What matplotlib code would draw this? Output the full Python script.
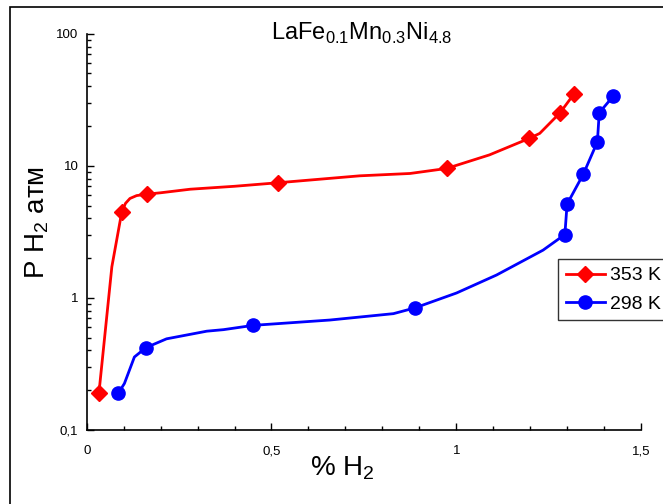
import numpy as np
import matplotlib
matplotlib.use("Agg")
import matplotlib.pyplot as plt
from matplotlib.patches import Rectangle
from matplotlib.ticker import FixedLocator, FixedFormatter, NullFormatter

plt.rcParams['font.family'] = ['Liberation Sans', 'DejaVu Sans']

# 353 K - measured points (markers)
h_353 = [0.033, 0.095, 0.162, 0.519, 0.974, 1.197, 1.281, 1.318]
p_353 = [0.19, 4.5, 6.1, 7.45, 9.55, 16.1, 25.2, 34.8]
# 353 K - smoothed curve
h_353_line = [0.033, 0.068, 0.095, 0.105, 0.117, 0.135, 0.162, 0.20, 0.28, 0.40, 0.519,
              0.739, 0.875, 0.974, 1.09, 1.197, 1.226, 1.281, 1.318]
p_353_line = [0.19, 1.72, 4.5, 5.2, 5.66, 5.95, 6.1, 6.25, 6.65, 7.0, 7.45,
              8.4, 8.75, 9.55, 12.1, 16.1, 17.6, 25.2, 34.8]

# 298 K - measured points (markers)
h_298 = [0.0855, 0.160, 0.451, 0.888, 1.294, 1.300, 1.344, 1.382, 1.387, 1.425]
p_298 = [0.19, 0.42, 0.62, 0.84, 3.02, 5.13, 8.65, 15.2, 25.2, 33.7]
# 298 K - smoothed curve
h_298_line = [0.0855, 0.102, 0.129, 0.160, 0.216, 0.325, 0.37, 0.451, 0.658,
              0.83, 0.888, 1.001, 1.109, 1.235, 1.294, 1.300, 1.344, 1.382, 1.387, 1.425]
p_298_line = [0.19, 0.225, 0.357, 0.42, 0.49, 0.56, 0.575, 0.62, 0.68,
              0.76, 0.84, 1.09, 1.49, 2.30, 3.02, 5.13, 8.65, 15.2, 25.2, 33.7]

fig = plt.figure(figsize=(6.63, 5.04), dpi=100)
ax = fig.add_axes([0.1308, 0.1468, 0.9668 - 0.1308, 0.9331 - 0.1468])

# outer frame (cut off at right/bottom like the original)
fig.patches.append(Rectangle((10 / 663, -0.1), 1.2, 1 - 7 / 504 + 0.1,
                             transform=fig.transFigure, fill=False,
                             edgecolor='black', linewidth=1.2))

ax.plot(h_353_line, p_353_line, color='red', lw=2.0, zorder=2)
ax.plot(h_353, p_353, 'D', color='red', ms=8.5, zorder=3)
ax.plot(h_298_line, p_298_line, color='blue', lw=2.0, zorder=2)
ax.plot(h_298, p_298, 'o', color='blue', ms=9.5, zorder=3)

# legend handles
l1, = ax.plot([], [], color='red', lw=2.0, marker='D', ms=8)
l2, = ax.plot([], [], color='blue', lw=2.0, marker='o', ms=9.5)
leg = fig.legend([l1, l2], ['353 K', '298 K'], loc='upper left',
                 bbox_to_anchor=(558 / 663, 1 - 259 / 504), fontsize=14,
                 frameon=True, fancybox=False, edgecolor='black',
                 borderpad=0.4, labelspacing=0.55, handlelength=2.0,
                 handletextpad=0.3, borderaxespad=0)
leg.get_frame().set_linewidth(1.0)

ax.set_yscale('log')
ax.set_xlim(0, 1.5)
ax.set_ylim(0.1, 100)
for s in ['top', 'right']:
    ax.spines[s].set_visible(False)
for s in ['left', 'bottom']:
    ax.spines[s].set_linewidth(1.2)

ax.xaxis.set_major_locator(FixedLocator([0, 0.5, 1, 1.5]))
ax.xaxis.set_major_formatter(FixedFormatter(['0', '0,5', '1', '1,5']))
ax.xaxis.set_minor_locator(FixedLocator(np.arange(0, 1.51, 0.1)))
ax.yaxis.set_major_locator(FixedLocator([0.1, 1, 10, 100]))
ax.yaxis.set_major_formatter(FixedFormatter(['0,1', '1', '10', '100']))
ax.yaxis.set_minor_locator(FixedLocator([m * 10.0 ** e for e in (-1, 0, 1) for m in range(2, 10)]))
ax.yaxis.set_minor_formatter(NullFormatter())
ax.tick_params(which='major', direction='in', length=5, width=1.0, labelsize=9.5, pad=11)
ax.tick_params(which='minor', direction='in', length=3, width=1.0)
ax.tick_params(axis='y', which='major', pad=6)

fig.text(362 / 663, 1 - 33 / 504, r'LaFe$_{\mathregular{0.1}}$Mn$_{\mathregular{0.3}}$Ni$_{\mathregular{4.8}}$',
         ha='center', va='center', fontsize=17)
fig.text(342 / 663, 1 - 468 / 504, r'% H$_{\mathregular{2}}$', ha='center', va='center', fontsize=20)
fig.text(37 / 663, 1 - 222 / 504, r'P H$_{\mathregular{2}}$ атм', ha='center', va='center',
         fontsize=20, rotation=90)

fig.savefig('out.png', dpi=100)
